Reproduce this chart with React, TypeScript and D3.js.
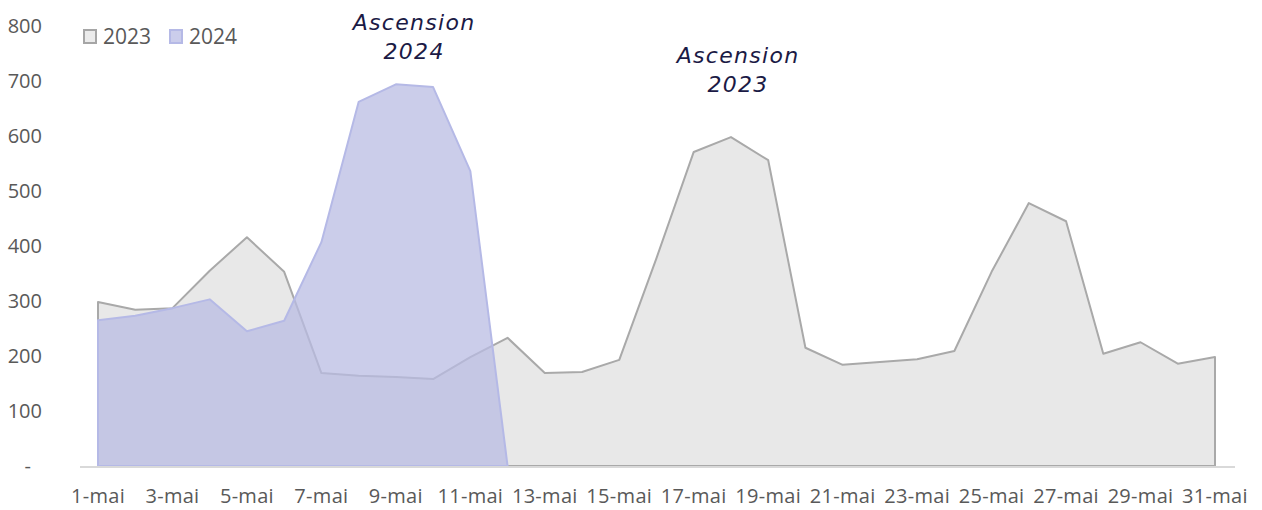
import * as d3 from 'd3';
import React, { useEffect, useRef } from 'react';

const days = [
  '1-mai', '2-mai', '3-mai', '4-mai', '5-mai', '6-mai', '7-mai', '8-mai', '9-mai', '10-mai',
  '11-mai', '12-mai', '13-mai', '14-mai', '15-mai', '16-mai', '17-mai', '18-mai', '19-mai', '20-mai',
  '21-mai', '22-mai', '23-mai', '24-mai', '25-mai', '26-mai', '27-mai', '28-mai', '29-mai', '30-mai',
  '31-mai',
];

const values2023 = [
  298, 284, 287, 355, 416, 353, 169, 164, 162, 158,
  198, 233, 169, 171, 193, 378, 571, 598, 556, 215,
  184, 189, 194, 209, 353, 478, 445, 204, 225, 186,
  198,
];

const values2024: (number | null)[] = [
  265, 273, 287, 303, 245, 264, 407, 662, 694, 689,
  536, 0, null, null, null, null, null, null, null, null,
  null, null, null, null, null, null, null, null, null, null,
  null,
];

const yTicks = [0, 100, 200, 300, 400, 500, 600, 700, 800];

const annotations = [
  { day: '9-mai', value: 793, lines: ['Ascension', '2024'], dx: 0.49 },
  { day: '18-mai', value: 733, lines: ['Ascension', '2023'], dx: 0.19 },
];

const W = 1262;
const H = 510;
const FONT = 'Open Sans, sans-serif';

export default function App() {
  const ref = useRef<SVGSVGElement>(null);

  useEffect(() => {
    drawChart();
  }, []);

  function drawChart() {
    const svg = d3.select(ref.current);
    svg.selectAll('*').remove();

    const left = 98;
    const right = 1215;
    const y0 = 466;

    const xScale = d3.scalePoint<string>().domain(days).range([left, right]);
    const yScale = d3.scaleLinear().domain([0, 800]).range([y0, 26]);

    const area = d3
      .area<{ d: string; v: number }>()
      .x((p) => xScale(p.d) as number)
      .y0(yScale(0))
      .y1((p) => yScale(p.v));

    // 2023 area
    const pts23 = days.map((d, i) => ({ d, v: values2023[i] }));
    svg
      .append('path')
      .datum(pts23)
      .attr('fill', '#e8e8e8')
      .attr('stroke', '#a9a9a9')
      .attr('stroke-width', 2)
      .attr('stroke-linejoin', 'round')
      .attr('d', area);

    // 2024 area
    const pts24 = days
      .map((d, i) => ({ d, v: values2024[i] }))
      .filter((p) => p.v !== null) as { d: string; v: number }[];
    svg
      .append('path')
      .datum(pts24)
      .attr('fill', 'rgb(185,188,227)')
      .attr('fill-opacity', 0.74)
      .attr('stroke', '#b5b9e6')
      .attr('stroke-width', 2)
      .attr('stroke-linejoin', 'round')
      .attr('d', area);

    // x axis line
    svg
      .append('line')
      .attr('x1', 80)
      .attr('x2', 1235)
      .attr('y1', y0 + 1)
      .attr('y2', y0 + 1)
      .attr('stroke', '#d9d9d9')
      .attr('stroke-width', 2);

    // y tick labels
    svg
      .append('g')
      .selectAll('text')
      .data(yTicks)
      .join('text')
      .attr('x', (d) => (d === 0 ? 31 : 42))
      .attr('y', (d) => yScale(d) + 7)
      .attr('text-anchor', 'end')
      .attr('font-family', FONT)
      .attr('font-size', 20)
      .attr('fill', '#595959')
      .text((d) => (d === 0 ? '-' : String(d)));

    // x tick labels, every other day
    svg
      .append('g')
      .selectAll('text')
      .data(days.filter((_, i) => i % 2 === 0))
      .join('text')
      .attr('x', (d) => xScale(d) as number)
      .attr('y', 503)
      .attr('text-anchor', 'middle')
      .attr('font-family', FONT)
      .attr('font-size', 20)
      .attr('letter-spacing', 0.3)
      .attr('fill', '#595959')
      .text((d) => d);

    // legend
    const legend = [
      { label: '2023', fill: '#ebebeb', stroke: '#a6a6a6', x: 83 },
      { label: '2024', fill: '#cbcdeb', stroke: '#b5b9e6', x: 169 },
    ];
    const lg = svg.append('g');
    legend.forEach((l) => {
      lg.append('rect')
        .attr('x', l.x + 1)
        .attr('y', 30)
        .attr('width', 12)
        .attr('height', 13)
        .attr('fill', l.fill)
        .attr('stroke', l.stroke)
        .attr('stroke-width', 2);
      lg.append('text')
        .attr('x', l.x + 20)
        .attr('y', 44)
        .attr('font-family', FONT)
        .attr('font-size', 21)
        .attr('fill', '#595959')
        .text(l.label);
    });

    // annotations
    const step = xScale.step();
    annotations.forEach((a) => {
      const cx = (xScale(a.day) as number) + a.dx * step;
      const t = svg
        .append('text')
        .attr('text-anchor', 'middle')
        .attr('font-family', 'DejaVu Sans, sans-serif')
        .attr('font-style', 'italic')
        .attr('font-size', 22)
        .attr('letter-spacing', 1.3)
        .attr('fill', '#1b1a45');
      a.lines.forEach((line, i) => {
        t.append('tspan')
          .attr('x', cx)
          .attr('y', yScale(a.value) + i * 29)
          .text(line);
      });
    });
  }

  return (
    <div style={{ position: 'absolute', left: 0, top: 0 }}>
      <svg ref={ref} width={W} height={H} style={{ display: 'block', background: '#fff' }} />
    </div>
  );
}
